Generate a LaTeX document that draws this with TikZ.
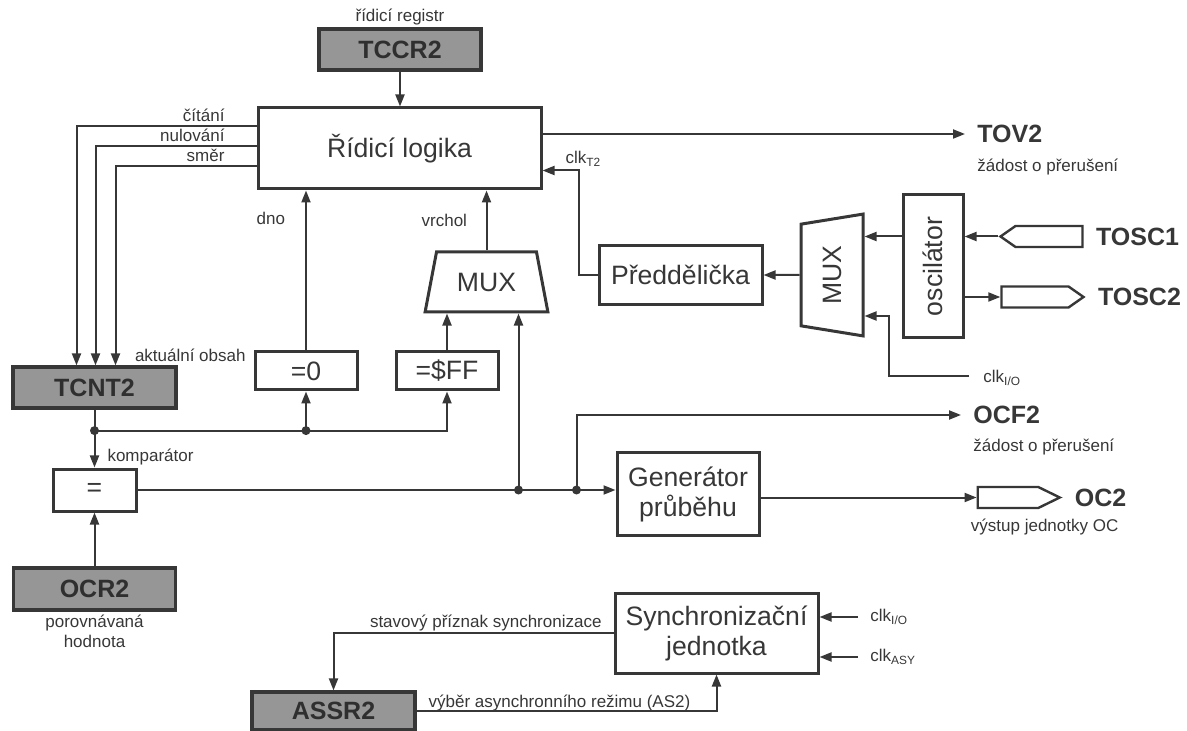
\documentclass[tikz,border=0pt]{standalone}
\usepackage{fontspec}
\usepackage{graphicx}
\setmainfont{Liberation Sans}
\usetikzlibrary{shapes.geometric,shapes.symbols,arrows.meta,positioning,calc}
\definecolor{ink}{RGB}{55,55,55}
\definecolor{regfill}{RGB}{150,150,150}
\tikzstyle{box}=[rectangle,draw=ink,line width=1.5pt,fill=white,text=ink,align=center,inner sep=0pt,font=\fontsize{13.3}{15}\selectfont]
\tikzstyle{reg}=[rectangle,draw=ink,line width=1.6pt,fill=regfill,text=ink!85!black,inner sep=0pt,font=\fontsize{12.5}{15}\selectfont\bfseries]
\tikzstyle{mux}=[trapezium,trapezium stretches=true,draw=ink,line width=1.5pt,fill=white,text=ink,inner sep=0pt,font=\fontsize{13.3}{15}\selectfont]
\tikzstyle{pin}=[signal,draw=ink,line width=1.2pt,fill=white,inner sep=0pt,minimum width=41pt,minimum height=10.5pt,signal pointer angle=70]
\tikzstyle{lbl}=[text=ink,inner sep=0pt,font=\fontsize{8.5}{10}\selectfont]
\tikzstyle{sig}=[text=ink,inner xsep=6pt,inner ysep=0pt,font=\fontsize{12.5}{15}\selectfont\bfseries]
\tikzstyle{arr}=[-{Triangle[length=6pt,width=4.5pt]},draw=ink,line width=1pt]
\tikzstyle{dot}=[circle,fill=ink,inner sep=0pt,minimum size=4.5pt]
\newcommand{\clk}[1]{clk\textsubscript{#1}}

\begin{document}
\begin{tikzpicture}[x=0.5pt,y=-0.5pt]
\useasboundingbox (0,0) rectangle (1187,731);
% registers and blocks
\node[lbl] (regtxt) at (400,17) {řídicí registr};
\node[reg, minimum width=81pt, minimum height=20.5pt] (tccr) at (400,49.5) {TCCR2};
\node[box, minimum width=141.5pt, minimum height=40.5pt] (logic) at (399.5,148.5) {Řídicí logika};
\node[reg, minimum width=81.5pt, minimum height=20.5pt] (tcnt) at (94.5,387.5) {TCNT2};
\node[lbl, anchor=base west] (obsah) at ($(tcnt.north east)+(-43,-4)$) {aktuální obsah};
\node[box, minimum width=51pt, minimum height=19pt] (zero) at (306,371) {=0};
\node[box, minimum width=51pt, minimum height=19pt] (ff) at (447,371) {=\$FF};
\node[mux, trapezium angle=70, minimum width=61.5pt, minimum height=30pt] (muxa) at (486.5,282) {MUX};
\node[box, minimum width=41.5pt, minimum height=21pt] (comp) at (94.5,490) {=};
\node[reg, minimum width=81pt, minimum height=21pt] (ocr) at (94.5,589) {OCR2};
\node[lbl, align=center, anchor=north] (ocrtxt) at ($(ocr.south)+(0,3)$) {porovnávaná\\hodnota};
\node[box, minimum width=71pt, minimum height=41pt] (gen) at (688,494) {Generátor\\průběhu};
\node[box, minimum width=81.5pt, minimum height=29.5pt] (pre) at (680.5,275) {Předdělička};
\node[mux, rotate=90, trapezium angle=72.5, minimum width=61pt, minimum height=31pt] (muxb) at (832,275) {MUX};
\node[box, minimum width=30pt, minimum height=71.5pt] (osc) at (933,266.5) {\rotatebox{90}{oscilátor}};
\node[box, minimum width=101.5pt, minimum height=40pt] (sync) at (716.5,633) {Synchronizační\\jednotka};
\node[reg, minimum width=81.5pt, minimum height=19pt] (assr) at (333.5,711) {ASSR2};

% pins and outputs
\node[pin, signal to=west] (tosca) at (1049,236.5) {};
\node[pin, signal to=east] (toscb) at (1035,297) {};
\node[pin, signal to=east, signal pointer angle=52] (ocpin) at (1008,497.5) {};
\node[sig, right=0pt of tosca] (tosca-t) {TOSC1};
\node[sig, right=0pt of toscb] (toscb-t) {TOSC2};
\node[sig, right=0pt of ocpin] (ocpin-t) {OC2};
\node[lbl, anchor=west] (octxt) at ($(ocpin.west)+(-6,30)$) {výstup jednotky OC};
\node[sig, anchor=west] (tov) at (965,134) {TOV2};
\node[lbl, anchor=west] (tovtxt) at ($(tov.west)+(12,33)$) {žádost o přerušení};
\node[sig, anchor=west] (ocf) at (961,415) {OCF2};
\node[lbl, anchor=west] (ocftxt) at ($(ocf.west)+(12,32)$) {žádost o přerušení};

% free ends and junctions
\coordinate (clkio) at (969,376);
\coordinate (cka) at (858,617);
\coordinate (ckb) at (858,657);
\coordinate (jt) at ($(tcnt.south)+(0,21)$);
\coordinate (jz) at (zero.south |- jt);
\coordinate (ja) at ($(comp.east -| muxa.south)+(32,0)$);
\coordinate (jb) at ($(comp.east -| gen.west)+(-39,0)$);
\node[lbl, anchor=west] (clkio-t) at ($(clkio)+(14,2)$) {\clk{I/O}};
\node[lbl, anchor=west] (cka-t) at ($(cka)+(12,0)$) {\clk{I/O}};
\node[lbl, anchor=west] (ckb-t) at ($(ckb)+(12,0)$) {\clk{ASY}};

% connectors
\draw[arr] (tccr.south) -- (tccr.south |- logic.north);
\draw[arr] ($(logic.north west)+(0,20)$) -- ++(-31,0) node[lbl, anchor=base east, yshift=2.5pt] {čítání} -| ($(tcnt.north)+(-18,0)$);
\draw[arr] ($(logic.north west)+(0,40)$) -- ++(-31,0) node[lbl, anchor=base east, yshift=2.5pt] {nulování} -| ($(tcnt.north)+(1,0)$);
\draw[arr] ($(logic.north west)+(0,60)$) -- ++(-31,0) node[lbl, anchor=base east, yshift=2.5pt] {směr} -| ($(tcnt.north)+(21,0)$);
\draw[arr] (tov.west -| logic.east) -- (tov.west);
\draw[arr] (zero.north) -- node[lbl, pos=0.785, anchor=base east, xshift=-10pt] {dno} (zero.north |- logic.south);
\draw[arr] (muxa.north) -- node[lbl, pos=0.4, anchor=base east, xshift=-9.25pt] {vrchol} (muxa.north |- logic.south);
\draw[arr] (ff.north) -- (ff.north |- muxa.south);
\draw[arr] (ja) -- (ja |- muxa.south);
\draw[arr] (pre.west) -- ++(-19,0) |- node[lbl, pos=0.5, anchor=south west, xshift=-7pt, yshift=1.5pt] {\clk{T2}} ($(logic.north east)+(0,64)$);
\draw[arr] (muxb.north) -- (pre.east);
\draw[arr] (osc.west |- tosca) -- (muxb.south |- tosca);
\draw[arr] (clkio) -- ++(-80,0) |- ($(muxb.south)+(0,41)$);
\draw[arr] (tosca.west) -- (tosca.west -| osc.east);
\draw[arr] (toscb.west -| osc.east) -- (toscb.west);
\draw[arr] (tcnt.south) -- node[lbl, pos=0.9, anchor=base west, xshift=6pt] {komparátor} (tcnt.south |- comp.north);
\draw[arr] (jt) -| (ff.south);
\draw[arr] (jz) -- (zero.south);
\draw[arr] (ocr.north) -- (comp.south);
\draw[arr] (comp.east) -- (comp.east -| gen.west);
\draw[arr] (jb) |- (ocf.west);
\draw[arr] (ocpin.west -| gen.east) -- (ocpin.west);
\draw[arr] (cka) -- (cka -| sync.east);
\draw[arr] (ckb) -- (ckb -| sync.east);
\draw[arr] (sync.west) -| node[lbl, pos=0, anchor=base east, xshift=-5.5pt, yshift=3pt] {stavový příznak synchronizace} (assr.north);
\draw[arr] (assr.east) -| node[lbl, pos=0, anchor=base west, xshift=5.5pt, yshift=2pt] {výběr asynchronního režimu (AS2)} (sync.south);
\node[dot] (djt) at (jt) {};
\node[dot] (djz) at (jz) {};
\node[dot] (dja) at (ja) {};
\node[dot] (djb) at (jb) {};
\end{tikzpicture}
\end{document}
